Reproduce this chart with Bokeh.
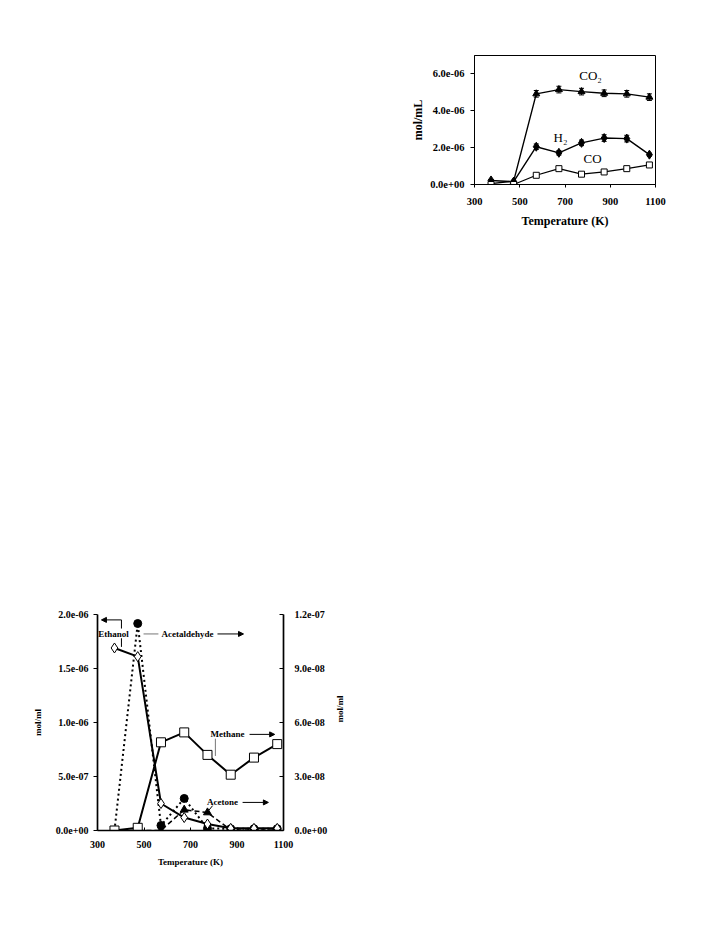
import math
from bokeh.plotting import figure
from bokeh.models import (Range1d, LinearAxis, FixedTicker,
                          ColumnDataSource, Whisker, Arrow, NormalHead)
from bokeh.embed import file_html
from bokeh.resources import INLINE
from bokeh.core.properties import value

# ---------------- data ----------------
temps = [373, 473, 573, 673, 773, 873, 973, 1073]

# top chart (mol/mL)
co2 = [0.05e-6, 0.18e-6, 4.92e-6, 5.15e-6, 5.04e-6, 4.95e-6, 4.92e-6, 4.74e-6]
co2_err = [0.05e-6, 0.05e-6, 0.18e-6, 0.18e-6, 0.18e-6, 0.18e-6, 0.18e-6, 0.18e-6]
h2 = [0.22e-6, 0.15e-6, 2.05e-6, 1.72e-6, 2.26e-6, 2.52e-6, 2.49e-6, 1.62e-6]
h2_err = [0.05e-6, 0.05e-6, 0.15e-6, 0.12e-6, 0.15e-6, 0.18e-6, 0.18e-6, 0.08e-6]
co = [0.0, 0.0, 0.50e-6, 0.86e-6, 0.56e-6, 0.68e-6, 0.86e-6, 1.06e-6]

# bottom chart
ethanol = [1.69e-6, 1.61e-6, 0.25e-6, 0.12e-6, 0.06e-6, 0.02e-6, 0.02e-6, 0.02e-6]    # left axis
acetaldehyde = [0.0, 1.15e-7, 2.8e-9, 1.78e-8, 1.1e-9, 1.0e-9, 1.0e-9, 1.0e-9]       # right axis
methane = [0.0, 1.5e-9, 4.9e-8, 5.45e-8, 4.2e-8, 3.1e-8, 4.05e-8, 4.8e-8]             # right axis
acetone = [0.0, 0.0, 0.0, 1.15e-8, 1.0e-8, 0.3e-9, 0.3e-9, 0.3e-9]                   # right axis

x_ticks = [300, 500, 700, 900, 1100]
top_y_ticks = [0, 2e-6, 4e-6, 6e-6]
top_y_labels = ["0.0e+00", "2.0e-06", "4.0e-06", "6.0e-06"]
left_y_ticks = [0, 5e-7, 1e-6, 1.5e-6, 2e-6]
left_y_labels = ["0.0e+00", "5.0e-07", "1.0e-06", "1.5e-06", "2.0e-06"]
right_y_ticks = [0, 3e-8, 6e-8, 9e-8, 1.2e-7]
right_y_labels = ["0.0e+00", "3.0e-08", "6.0e-08", "9.0e-08", "1.2e-07"]

SERIF = "Liberation Serif"

def style_axis(ax, size):
    ax.major_label_text_font = SERIF
    ax.major_label_text_font_style = "bold"
    ax.major_label_text_font_size = size
    ax.major_label_text_color = "black"
    ax.axis_label_text_font = SERIF
    ax.axis_label_text_font_style = "bold"
    ax.axis_label_text_color = "black"
    ax.axis_line_color = "black"
    ax.major_tick_line_color = "black"
    ax.minor_tick_line_color = None

# ---------------- top chart ----------------
P1_H = 55 + 129 + 52
p1 = figure(width=474 + 181 + 45, height=P1_H,
            min_border_left=474, min_border_right=45, min_border_top=55, min_border_bottom=52,
            x_range=Range1d(300, 1100), y_range=Range1d(0, 7e-6),
            output_backend="svg", toolbar_location=None)
p1.xgrid.visible = False
p1.ygrid.visible = False
p1.outline_line_color = "black"
p1.outline_line_width = 1

p1.xaxis.ticker = FixedTicker(ticks=x_ticks)
p1.yaxis.ticker = FixedTicker(ticks=top_y_ticks)
p1.yaxis.major_label_overrides = dict(zip(top_y_ticks, top_y_labels))
for ax in (p1.xaxis[0], p1.yaxis[0]):
    style_axis(ax, "10.5px")
    ax.axis_label_text_font_size = "12px"
p1.xaxis.axis_label = "Temperature (K)"
p1.yaxis.axis_label = "mol/mL"
p1.xaxis.major_tick_in = 0
p1.xaxis.major_tick_out = 3
p1.yaxis.major_tick_in = 0
p1.yaxis.major_tick_out = 4
p1.xaxis.major_label_standoff = 10
p1.xaxis.axis_label_standoff = 6
p1.yaxis.major_label_standoff = 6
p1.yaxis.axis_label_standoff = 2

src1 = ColumnDataSource(dict(
    t=temps, co2=co2, h2=h2, co=co,
    co2_lo=[v - e for v, e in zip(co2, co2_err)], co2_hi=[v + e for v, e in zip(co2, co2_err)],
    h2_lo=[v - e for v, e in zip(h2, h2_err)], h2_hi=[v + e for v, e in zip(h2, h2_err)],
))
for lo, hi in (("co2_lo", "co2_hi"), ("h2_lo", "h2_hi")):
    w = Whisker(base="t", lower=lo, upper=hi, source=src1, line_color="black", line_width=1)
    w.upper_head.size = 5
    w.lower_head.size = 5
    w.upper_head.line_color = "black"
    w.lower_head.line_color = "black"
    p1.add_layout(w)

p1.line("t", "co2", source=src1, line_color="black", line_width=1.4)
p1.scatter("t", "co2", source=src1, marker="triangle", size=7, fill_color="black", line_color="black")
p1.line("t", "h2", source=src1, line_color="black", line_width=1.4)
p1.scatter("t", "h2", source=src1, marker="diamond", size=9, fill_color="black", line_color="black")
p1.line("t", "co", source=src1, line_color="black", line_width=1.2)
p1.scatter("t", "co", source=src1, marker="square", size=6, fill_color="white", line_color="black")

top_labels = dict(x=[813, 680, 822], y=[5.91e-6, 2.55e-6, 1.41e-6], text=["CO₂", "H₂", "CO"])
p1.text(x="x", y="y", text="text", source=ColumnDataSource(top_labels),
        text_font=value(SERIF), text_font_size="13px", text_align="center",
        text_baseline="middle", text_color="black")

# ---------------- bottom chart ----------------
P2_TOP = 614 - P1_H
p2 = figure(width=97 + 186 + 72, height=P2_TOP + 216 + 50,
            min_border_left=97, min_border_right=72, min_border_top=P2_TOP, min_border_bottom=50,
            x_range=Range1d(300, 1100), y_range=Range1d(0, 2e-6),
            output_backend="svg", toolbar_location=None)
p2.extra_y_ranges = {"right": Range1d(0, 1.2e-7)}
p2.xgrid.visible = False
p2.ygrid.visible = False
p2.outline_line_color = None

raxis = LinearAxis(y_range_name="right", axis_label="mol/ml")
p2.add_layout(raxis, "right")
try:
    raxis.axis_label_orientation = math.pi / 2   # read bottom-to-top like the left one
except Exception:
    pass

p2.xaxis.ticker = FixedTicker(ticks=x_ticks)
p2.yaxis[0].ticker = FixedTicker(ticks=left_y_ticks)
raxis.ticker = FixedTicker(ticks=right_y_ticks)
p2.yaxis[0].major_label_overrides = dict(zip(left_y_ticks, left_y_labels))
raxis.major_label_overrides = dict(zip(right_y_ticks, right_y_labels))
for ax in (p2.xaxis[0], p2.yaxis[0], raxis):
    style_axis(ax, "10px")
    ax.axis_label_text_font_size = "9px"
    ax.axis_line_width = 1.7
p2.xaxis.axis_label = "Temperature (K)"
p2.yaxis[0].axis_label = "mol/ml"
p2.xaxis.major_tick_in = 3
p2.xaxis.major_tick_out = 0
p2.yaxis[0].major_tick_in = 0
p2.yaxis[0].major_tick_out = 4
raxis.major_tick_in = 4
raxis.major_tick_out = 0
p2.xaxis.major_label_standoff = 10
p2.xaxis.axis_label_standoff = 6
p2.yaxis[0].major_label_standoff = 5
p2.yaxis[0].axis_label_standoff = 10
raxis.major_label_standoff = 11
raxis.axis_label_standoff = 10

src2 = ColumnDataSource(dict(t=temps, eth=ethanol, ald=acetaldehyde, met=methane, ace=acetone))

p2.line("t", "ald", source=src2, y_range_name="right", line_color="black", line_width=2,
        line_dash="2 3")
p2.line("t", "ace", source=src2, y_range_name="right", line_color="black", line_width=1.5,
        line_dash="5 3")
p2.line("t", "met", source=src2, y_range_name="right", line_color="black", line_width=2)
p2.line("t", "eth", source=src2, line_color="black", line_width=2)

p2.scatter("t", "ald", source=src2, y_range_name="right", marker="circle", size=8,
           fill_color="black", line_color="black")
p2.scatter("t", "ace", source=src2, y_range_name="right", marker="triangle", size=8,
           fill_color="black", line_color="black")
p2.scatter("t", "met", source=src2, y_range_name="right", marker="square", size=9,
           fill_color="white", line_color="black", line_width=1)
p2.scatter("t", "eth", source=src2, marker="diamond", size=10,
           fill_color="white", line_color="black", line_width=1)

# annotations (positions in data units of the left axis)
ann = dict(x=[369, 687, 859, 838], y=[1.82e-6, 1.82e-6, 0.89e-6, 0.26e-6],
           text=["Ethanol", "Acetaldehyde", "Methane", "Acetone"])
p2.text(x="x", y="y", text="text", source=ColumnDataSource(ann),
        text_font=value(SERIF), text_font_style="bold", text_font_size="9px",
        text_align="center", text_baseline="middle", text_color="black")

def arrow(x0, y0, x1, y1):
    p2.add_layout(Arrow(end=NormalHead(size=5, fill_color="black", line_color="black"),
                        x_start=x0, y_start=y0, x_end=x1, y_end=y1,
                        line_color="black", line_width=1))

arrow(403, 1.95e-6, 317, 1.95e-6)
p2.segment(x0=[403, 403], y0=[1.95e-6, 1.78e-6], x1=[403, 403], y1=[1.87e-6, 1.70e-6],
           line_color="black", line_width=1)
arrow(816, 1.82e-6, 928, 1.82e-6)
p2.segment(x0=[498], y0=[1.82e-6], x1=[562], y1=[1.82e-6], line_color="#777777", line_width=1)
arrow(954, 0.89e-6, 1062, 0.89e-6)
p2.segment(x0=[807], y0=[0.85e-6], x1=[807], y1=[0.69e-6], line_color="#777777", line_width=1)
arrow(924, 0.26e-6, 1035, 0.26e-6)
p2.segment(x0=[795], y0=[0.23e-6], x1=[780], y1=[0.19e-6], line_color="black", line_width=1)

open("out.html", "w").write(file_html([p1, p2], INLINE))
